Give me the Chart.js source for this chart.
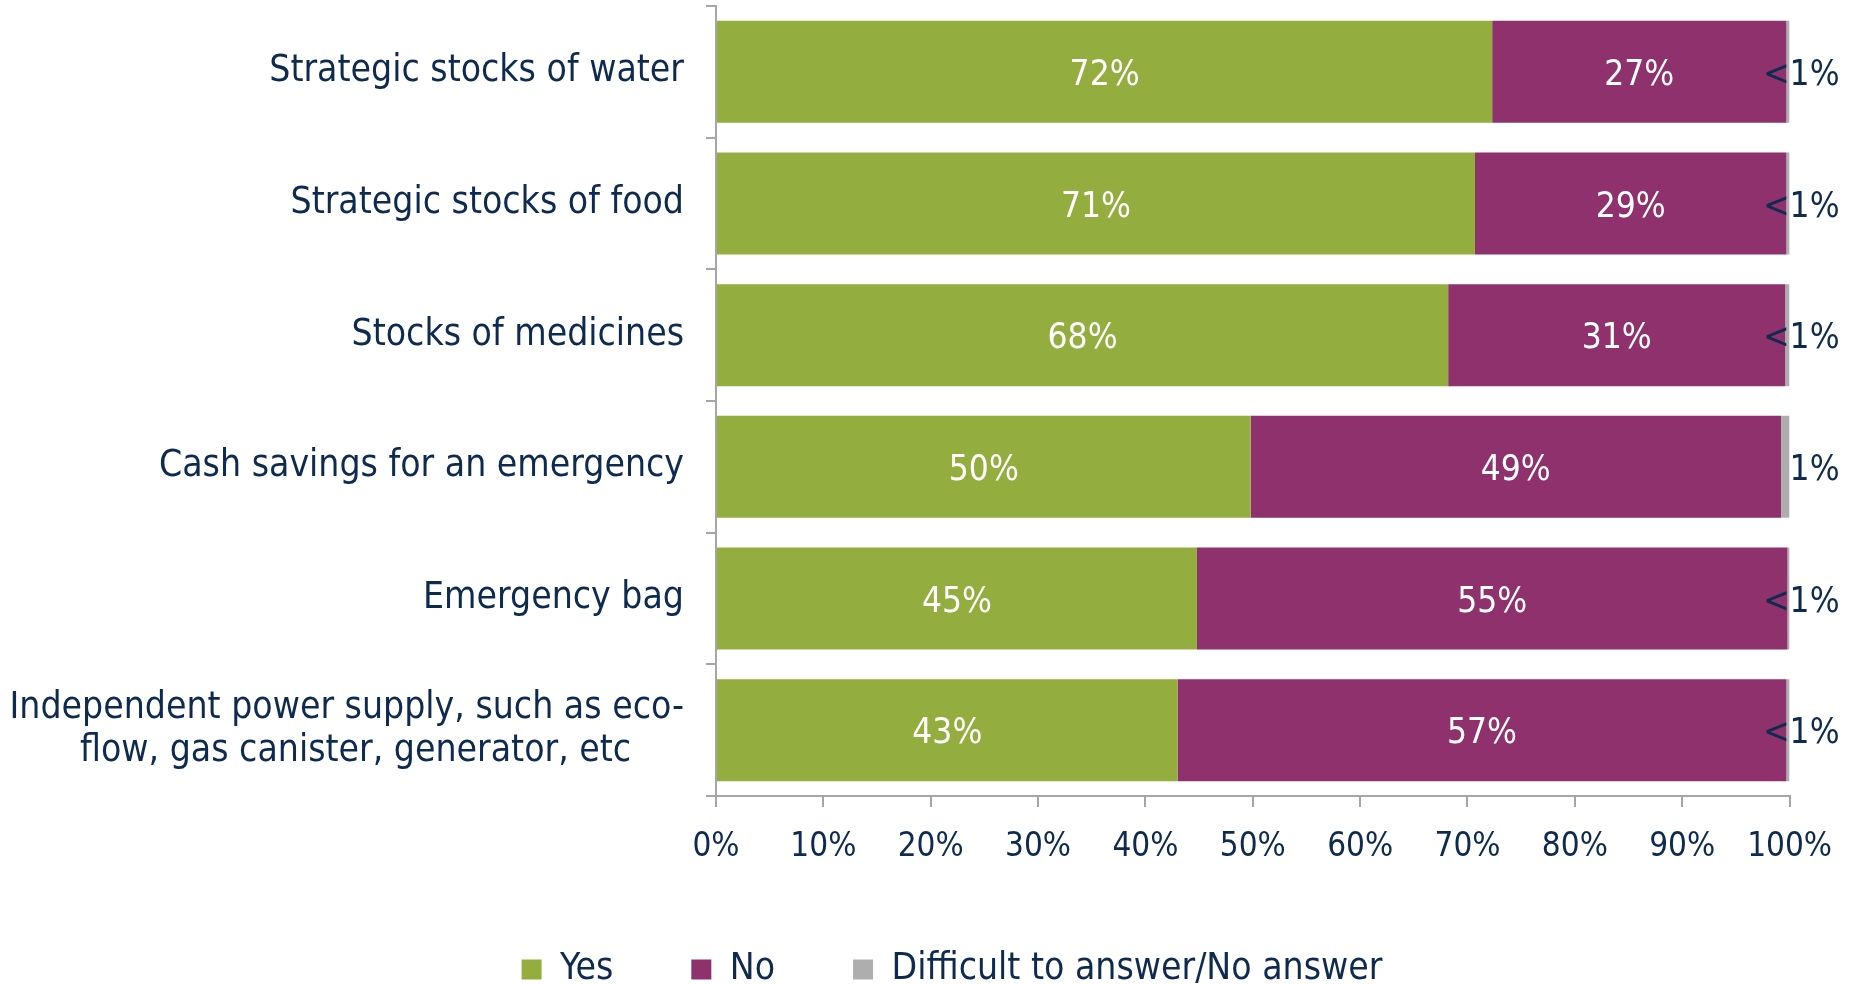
<!DOCTYPE html>
<html>
<head>
<meta charset="utf-8">
<script src="https://cdn.jsdelivr.net/npm/chart.js@4"></script>
<style>
  html, body { margin: 0; padding: 0; background: #fff; }
  #wrap { width: 1853px; height: 984px; position: relative; }
</style>
</head>
<body>
<div id="wrap"><canvas id="chart"></canvas></div>
<script>
const categories = [
    "Strategic stocks of water",
    "Strategic stocks of food",
    "Stocks of medicines",
    "Cash savings for an emergency",
    "Emergency bag",
    ["Independent power supply, such as eco-", "flow, gas canister, generator, etc"]
];
const seriesNames = ["Yes", "No", "Difficult to answer/No answer"];
const yesValues = [72.3, 70.7, 68.2, 49.8, 44.8, 43.0];
const noValues = [27.4, 29.0, 31.4, 49.4, 55.0, 56.7];
const dkValues = [0.3, 0.3, 0.4, 0.8, 0.2, 0.3];
const xTickValues = [0, 10, 20, 30, 40, 50, 60, 70, 80, 90, 100];

const navy = "#0e2b4f";
const axisGrey = "#a6a6a6";
const fontName = '"DejaVu Sans Condensed", "DejaVu Sans", sans-serif';

// labels on the bars
const barLabels = {
    id: "barLabels",
    afterDatasetsDraw(chart) {
        const ctx = chart.ctx;
        ctx.save();
        ctx.font = `35px ${fontName}`;
        ctx.textBaseline = "middle";
        chart.data.datasets.forEach((ds, di) => {
            const meta = chart.getDatasetMeta(di);
            meta.data.forEach((bar, i) => {
                const v = ds.data[i];
                if (di < 2) {
                    ctx.fillStyle = "#ffffff";
                    ctx.textAlign = "center";
                    ctx.fillText(Math.round(v) + "%", (bar.x + bar.base) / 2, bar.y + 4);
                } else {
                    ctx.fillStyle = navy;
                    ctx.textAlign = "right";
                    ctx.fillText(v < 0.5 ? "<1%" : Math.round(v) + "%", bar.x + 50, bar.y + 4);
                }
            });
        });
        ctx.restore();
    }
};

// legend sits a bit right of the canvas centre in the original
const legendShift = {
    id: "legendShift",
    afterLayout(chart) {
        if (chart.legend) {
            chart.legend.left += 57;
            chart.legend.right += 57;
        }
    }
};

new Chart(document.getElementById("chart"), {
    type: "bar",
    data: {
        labels: categories,
        datasets: [
            { label: seriesNames[0], data: yesValues, backgroundColor: "#93ad3f" },
            { label: seriesNames[1], data: noValues, backgroundColor: "#8e316c" },
            { label: seriesNames[2], data: dkValues, backgroundColor: "#aeaeae" }
        ]
    },
    options: {
        indexAxis: "y",
        responsive: true,
        maintainAspectRatio: false,
        animation: false,
        categoryPercentage: 1,
        barPercentage: 0.775,
        layout: { padding: { top: 6, right: 63, bottom: 0, left: 0 } },
        plugins: {
            tooltip: { enabled: false },
            legend: {
                position: "bottom",
                maxHeight: 111,
                labels: {
                    color: navy,
                    font: { family: fontName, size: 37 },
                    boxWidth: 20,
                    boxHeight: 20,
                    padding: 78
                }
            }
        },
        scales: {
            x: {
                stacked: true,
                min: 0,
                max: 100,
                afterBuildTicks: (s) => { s.ticks = xTickValues.map(v => ({ value: v })); },
                afterFit: (s) => { s.height = 77; },
                border: { color: axisGrey, width: 2 },
                grid: { drawOnChartArea: false, color: axisGrey, lineWidth: 2, tickLength: 11 },
                ticks: {
                    color: navy,
                    font: { family: fontName, size: 33 },
                    padding: 21,
                    maxRotation: 0,
                    callback: (v) => v + "%"
                }
            },
            y: {
                stacked: true,
                afterFit: (s) => {
                    s.width = 716;
                    s.paddingTop = 0;
                    s.paddingBottom = 0;
                },
                border: { color: axisGrey, width: 2 },
                grid: { drawOnChartArea: false, color: axisGrey, lineWidth: 2, tickLength: 10 },
                ticks: {
                    color: navy,
                    font: { family: fontName, size: 37, lineHeight: 1.17 },
                    padding: 22,
                    // second line of the wrapped label sits centred under the first
                    callback: function (v) {
                        const l = this.getLabelForValue(v);
                        return Array.isArray(l) ? [l[0], l[1] + "     "] : l;
                    }
                }
            }
        }
    },
    plugins: [barLabels, legendShift]
});
</script>
</body>
</html>
